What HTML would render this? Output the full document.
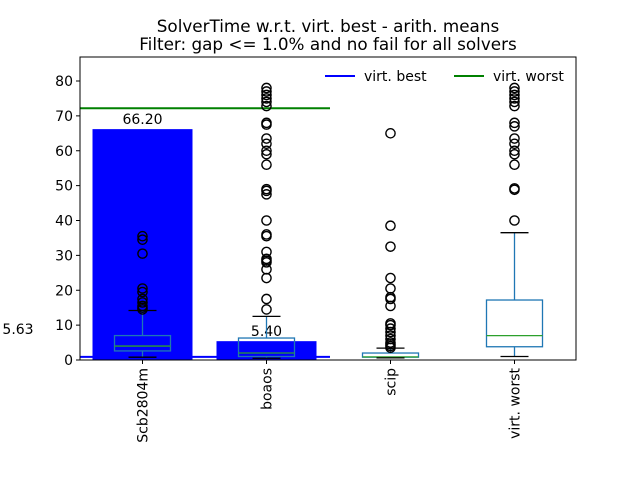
<!DOCTYPE html>
<html><head><meta charset="utf-8"><style>
body{margin:0;background:#fff;font-family:"Liberation Sans","DejaVu Sans",sans-serif}
svg text{font-family:"DejaVu Sans","Liberation Sans",sans-serif}
</style></head><body>
<svg id="c" width="640" height="480" xmlns="http://www.w3.org/2000/svg"></svg>
<script>
const categories=["Scb2804m","boaos","scip","virt. worst"];
const barValues=[66.20,5.40];
const barLabels=["66.20","5.40"];
const boxLow=[0.8,0.5,0.6,1.0];
const boxQ1=[2.6,1.0,0.8,3.8];
const boxMed=[4.0,2.0,0.9,7.0];
const boxQ3=[7.0,6.3,2.0,17.2];
const boxHigh=[14.2,12.5,3.4,36.5];
const outliers=[
[35.5,34.5,30.5,20.5,19.5,17.5,16.5,15.5,15,14.5],
[78,77,76,75,74,72.8,68,67.5,63.5,62,60,59,56,49,48.5,47.5,40,36,35.5,31,29,28.5,28,26,23.5,17.5,14.5],
[65,38.5,32.5,23.5,20.5,18,17.5,15.5,10.5,10,9,8,7,6,5,4.5,4,3.5],
[78,77,76,75,74,72.8,68,67,63.5,62,60,59,56,49.2,48.8,40]];
const virtBest=0.9, virtWorst=72.2;
const yTicks=[0,10,20,30,40,50,60,70,80];
const NS="http://www.w3.org/2000/svg",svg=document.getElementById('c');
const L=80,R=576,T=57,B=360;
const y=v=>B-v*3.4875;
const x=i=>142.5+i*124;
function el(t,a,p){const e=document.createElementNS(NS,t);for(const k in a)e.setAttribute(k,a[k]);(p||svg).appendChild(e);return e;}
function txt(s,a){const e=el('text',a);e.textContent=s;return e;}
let t=txt("SolverTime w.r.t. virt. best - arith. means",{x:328,y:32,'text-anchor':'middle','font-size':16.8});

t=txt("Filter: gap <= 1.0% and no fail for all solvers",{x:328,y:50,'text-anchor':'middle','font-size':16.8});

barValues.forEach((v,i)=>{
 const b=el('rect',{x:x(i)-50,y:y(v),width:100,height:B-y(v),fill:'#0000ff'});
 
 const l=txt(barLabels[i],{x:x(i),y:y(v)-5,'text-anchor':'middle','font-size':14});
 
});
let ln=el('line',{x1:L,x2:330,y1:y(virtBest),y2:y(virtBest),stroke:'#0000ff','stroke-width':2});

ln=el('line',{x1:L,x2:330,y1:y(virtWorst),y2:y(virtWorst),stroke:'green','stroke-width':2});

t=txt("5.63",{x:18,y:334,'text-anchor':'middle','font-size':14});

categories.forEach((c,i)=>{
 const g=el('g',{});
 const cx=x(i),w=28;
 el('rect',{x:cx-w,y:y(boxQ3[i]),width:2*w,height:y(boxQ1[i])-y(boxQ3[i]),fill:'none',stroke:'#1f77b4','stroke-width':1.3},g);
 el('line',{x1:cx-w,x2:cx+w,y1:y(boxMed[i]),y2:y(boxMed[i]),stroke:'#2ca02c','stroke-width':1.3},g);
 el('line',{x1:cx,x2:cx,y1:y(boxQ3[i]),y2:y(boxHigh[i]),stroke:'#1f77b4','stroke-width':1.3},g);
 el('line',{x1:cx,x2:cx,y1:y(boxQ1[i]),y2:y(boxLow[i]),stroke:'#1f77b4','stroke-width':1.3},g);
 el('line',{x1:cx-14,x2:cx+14,y1:y(boxHigh[i]),y2:y(boxHigh[i]),stroke:'#000','stroke-width':1.3},g);
 el('line',{x1:cx-14,x2:cx+14,y1:y(boxLow[i]),y2:y(boxLow[i]),stroke:'#000','stroke-width':1.3},g);
 outliers[i].forEach(v=>{const o=el('circle',{cx:cx,cy:y(v),r:4.6,fill:'none',stroke:'#000','stroke-width':1.4},g);
  });
 el('line',{x1:cx,x2:cx,y1:B,y2:B+4,stroke:'#000'});
 const lt=txt(c,{transform:`translate(${cx+5},${B+8}) rotate(-90)`,'text-anchor':'end','font-size':14});
 
});
yTicks.forEach(v=>{
 el('line',{x1:L-4,x2:L,y1:y(v),y2:y(v),stroke:'#000'});
 const lt=txt(String(v),{x:L-7,y:y(v)+5,'text-anchor':'end','font-size':14});
 
});
const ax=el('rect',{x:L,y:T,width:R-L,height:B-T,fill:'none',stroke:'#000','stroke-width':1});

const lg=el('g',{});
el('line',{x1:325,x2:355,y1:76,y2:76,stroke:'#0000ff','stroke-width':2},lg);
let e=txt("virt. best",{x:364,y:81,'font-size':14});
el('line',{x1:454,x2:484,y1:76,y2:76,stroke:'green','stroke-width':2},lg);
e=txt("virt. worst",{x:493,y:81,'font-size':14});
</script>
</body></html>
